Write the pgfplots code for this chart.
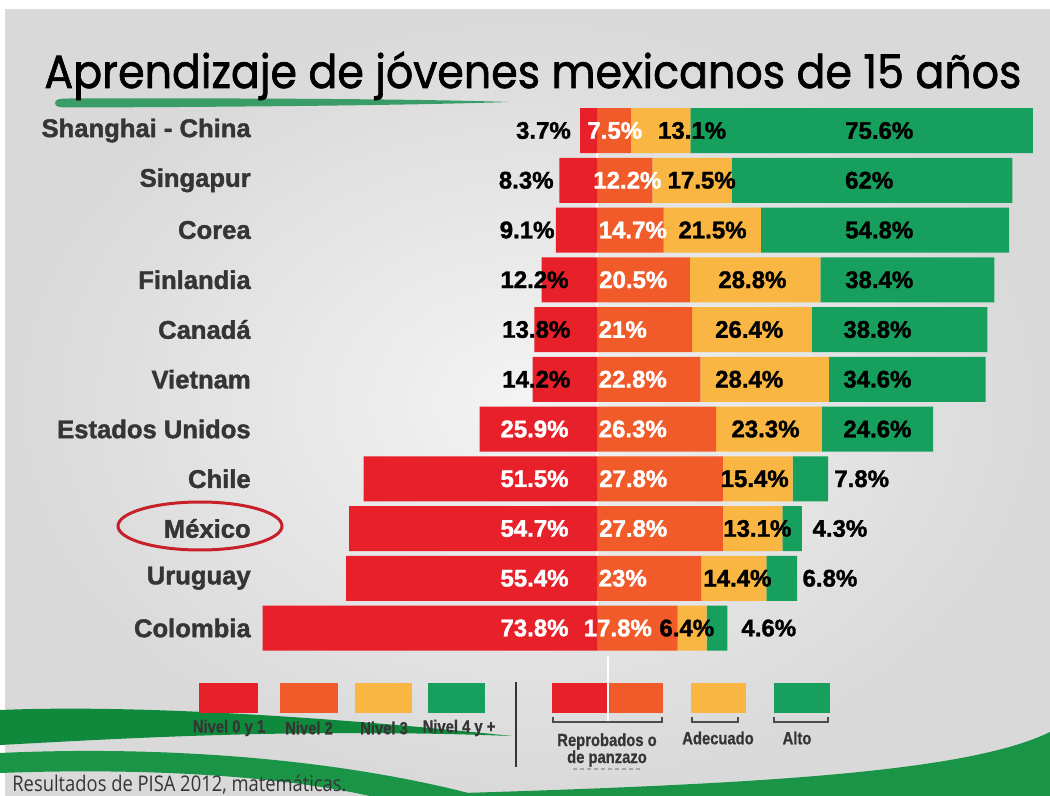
\documentclass[border=0pt]{standalone}
\usepackage{graphicx}
\usepackage{pgfplots}
\pgfplotsset{compat=1.18}
\usepackage{pgfplotstable}
\usepackage{fontspec}
\setmainfont{Liberation Sans}
\newfontfamily\condb[FakeBold=1.5]{Liberation Sans Bold}
\newfontfamily\legb[FakeStretch=0.84,FakeBold=0.8]{Liberation Sans Bold}
\newfontfamily\titlefont[FakeBold=1.5]{Poppins}
\newfontfamily\footfont[FakeStretch=0.85]{Open Sans}

\definecolor{cred}{HTML}{E8202A}
\definecolor{corange}{HTML}{F15A29}
\definecolor{cyellow}{HTML}{FAB642}
\definecolor{cgreen}{HTML}{17A05D}
\definecolor{ctext}{HTML}{353535}
\definecolor{cdark}{HTML}{0F8A3C}
\definecolor{cswoosh}{HTML}{1A9447}
\definecolor{cline}{HTML}{C8202A}
\definecolor{cunder}{HTML}{3A9D68}

\pgfplotstableread{
row red orange yellow green
1 3.7 7.5 13.1 75.6
2 8.3 12.2 17.5 62
3 9.1 14.7 21.5 54.8
4 12.2 20.5 28.8 38.4
5 13.8 21 26.4 38.8
6 14.2 22.8 28.4 34.6
7 25.9 26.3 23.3 24.6
8 51.5 27.8 15.4 7.8
9 54.7 27.8 13.1 4.3
10 55.4 23 14.4 6.8
11 73.8 17.8 6.4 4.6
}\levels

\pgfplotstableread{
row x lbl
1 -5.7 3.7
2 -9.5 8.3
3 -9.3 9.1
4 -6.2 12.2
5 -5.8 13.8
6 -5.8 14.2
}\redK
\pgfplotstableread{
row x lbl
7 -6.2 25.9
8 -6.2 51.5
9 -6.2 54.7
10 -6.2 55.4
11 -6.2 73.8
}\redW
\pgfplotstableread{
row x lbl
1 -2.2 7.5
2 -0.9 12.2
3 0.3 14.7
4 0.4 20.5
5 0.3 21
6 0.3 22.8
7 0.3 26.3
8 0.4 27.8
9 0.4 27.8
10 0.3 23
11 -3.0 17.8
}\orW
\pgfplotstableread{
row x lbl
1 13.4 13.1
2 15.5 17.5
3 17.9 21.5
4 26.7 28.8
5 26.0 26.4
6 26.0 28.4
7 29.6 23.3
8 27.2 15.4
9 27.8 13.1
10 23.4 14.4
11 13.7 6.4
}\yeK
\pgfplotstableread{
row x lbl
1 54.7 75.6
2 54.7 62
3 54.7 54.8
4 54.7 38.4
5 54.3 38.8
6 54.3 34.6
7 54.3 24.6
8 52.3 7.8
9 47.5 4.3
10 45.3 6.8
11 31.8 4.6
}\grK

\pgfplotsset{
  base/.style={
    at={(126.36pt,-52.8125pt)}, anchor=north west,
    scale only axis, width=398.64pt, height=273.625pt,
    xmin=-76, xmax=100, ymin=0.5, ymax=11.5, y dir=reverse,
    enlargelimits=false, clip=false,
  },
  lbl/.style={draw=none, mark=none, nodes near coords={\pgfplotspointmeta\%},
    point meta=explicit symbolic,
    nodes near coords style={font=\condb\fontsize{12pt}{12pt}\selectfont, inner sep=0pt, #1}},
}

\begin{document}
\begin{tikzpicture}
\begin{scope}[x=0.5pt,y=-0.5pt]
  \useasboundingbox (0,0) rectangle (1050,796);
  \fill[white] (0,0) rectangle (1050,796);
  \shade[inner color=gray!9, outer color=gray!30] (5,10) rectangle (1050,796);
  % bottom swooshes
  \fill[cswoosh] (360,796) .. controls (720,786) and (960,776) .. (1050,732) -- (1050,796) -- cycle;
  \fill[cdark] (0,710) .. controls (120,705) and (300,714) .. (512,736) .. controls (300,728) and (130,738) .. (0,745) -- cycle;
  \fill[cswoosh] (0,753) .. controls (150,746) and (330,756) .. (480,796) -- (370,796) .. controls (270,774) and (130,768) .. (0,773) -- cycle;
  % title underline
  \fill[cunder] (55,103) .. controls (55,99) and (60,98.5) .. (70,98.5) .. controls (250,98) and (420,99) .. (509,102) .. controls (420,105) and (250,107) .. (70,107.5) .. controls (60,107.5) and (55,107) .. (55,103) -- cycle;
  % title
  \node[anchor=base west, inner sep=0pt, text=black] at (44,88)
    {\resizebox{488.5pt}{\height}{\titlefont\fontsize{23.2pt}{25pt}\selectfont Aprendizaje de jóvenes mexicanos de 15 años}};
  % Mexico ellipse
  \draw[cline, line width=1.5pt] (200,526) ellipse [x radius=82, y radius=24];
  % legend left
  \fill[cred] (199,683) rectangle (258,713);
  \fill[corange] (280,683) rectangle (338,713);
  \fill[cyellow] (355,683) rectangle (412,713);
  \fill[cgreen] (428,683) rectangle (485,713);
  \begin{scope}[every node/.style={font=\legb\fontsize{8.8pt}{9.5pt}\selectfont, text=ctext, inner sep=0pt}]
    \node at (229,728) {Nivel 0 y 1};
    \node at (309,728) {Nivel 2};
    \node at (384,728) {Nivel 3};
    \node at (459,728) {Nivel 4 y +};
    \node[align=center] at (607,750) {Reprobados o\\[-1pt]de panzazo};
    \node at (718,738) {Adecuado};
    \node at (797,738) {Alto};
  \end{scope}
  \draw[ctext, line width=1pt] (516,682) -- (516,767);
  % legend right
  \fill[cred] (552,683) rectangle (609,713);
  \fill[corange] (609,683) rectangle (663,713);
  \fill[cyellow] (691,683) rectangle (746,713);
  \fill[cgreen] (774,683) rectangle (830,713);
  \draw[white, line width=0.8pt] (608,656) -- (608,722);
  \draw[gray!60!black, line width=0.7pt] (553,717) -- (553,722) -- (662,722) -- (662,717);
  \draw[gray!60!black, line width=0.7pt] (692,717) -- (692,722) -- (738,722) -- (738,717);
  \draw[gray!60!black, line width=0.7pt] (774,717) -- (774,722) -- (828,722) -- (828,717);
  \draw[gray!70, line width=0.6pt, dash pattern=on 2pt off 1.5pt] (573,769) -- (642,769);
  % footer
  \node[anchor=base west, inner sep=0pt, text=ctext] at (12,791)
    {\footfont\fontsize{10.8pt}{11pt}\selectfont Resultados de PISA 2012, matemáticas.};
\end{scope}

\begin{axis}[base, xbar stacked, bar width=22.5pt,
  axis line style={draw=none}, tick style={draw=none},
  xtick=\empty, ytick={1,...,11},
  yticklabels={Shanghai - China, Singapur, Corea, Finlandia, Canadá, Vietnam, Estados Unidos, Chile, México, Uruguay, Colombia},
  yticklabel style={font=\condb\fontsize{12.8pt}{13pt}\selectfont, text=ctext, xshift=2.5pt},
]
\addplot[fill=cred, draw=none] table[x expr=-\thisrow{red}, y=row]{\levels};
\addplot[fill=corange, draw=none] table[x=orange, y=row]{\levels};
\addplot[fill=cyellow, draw=none] table[x=yellow, y=row]{\levels};
\addplot[fill=cgreen, draw=none] table[x=green, y=row]{\levels};
\draw[white, line width=1pt] (axis cs:0,0.55) -- (axis cs:0,11.45);
\end{axis}

\begin{axis}[base, hide axis]
\addplot[lbl={anchor=east, text=black}] table[x=x, y=row, meta=lbl]{\redK};
\addplot[lbl={anchor=east, text=white}] table[x=x, y=row, meta=lbl]{\redW};
\addplot[lbl={anchor=west, text=white}] table[x=x, y=row, meta=lbl]{\orW};
\addplot[lbl={anchor=west, text=black}] table[x=x, y=row, meta=lbl]{\yeK};
\addplot[lbl={anchor=west, text=black}] table[x=x, y=row, meta=lbl]{\grK};
\end{axis}
\end{tikzpicture}
\end{document}
